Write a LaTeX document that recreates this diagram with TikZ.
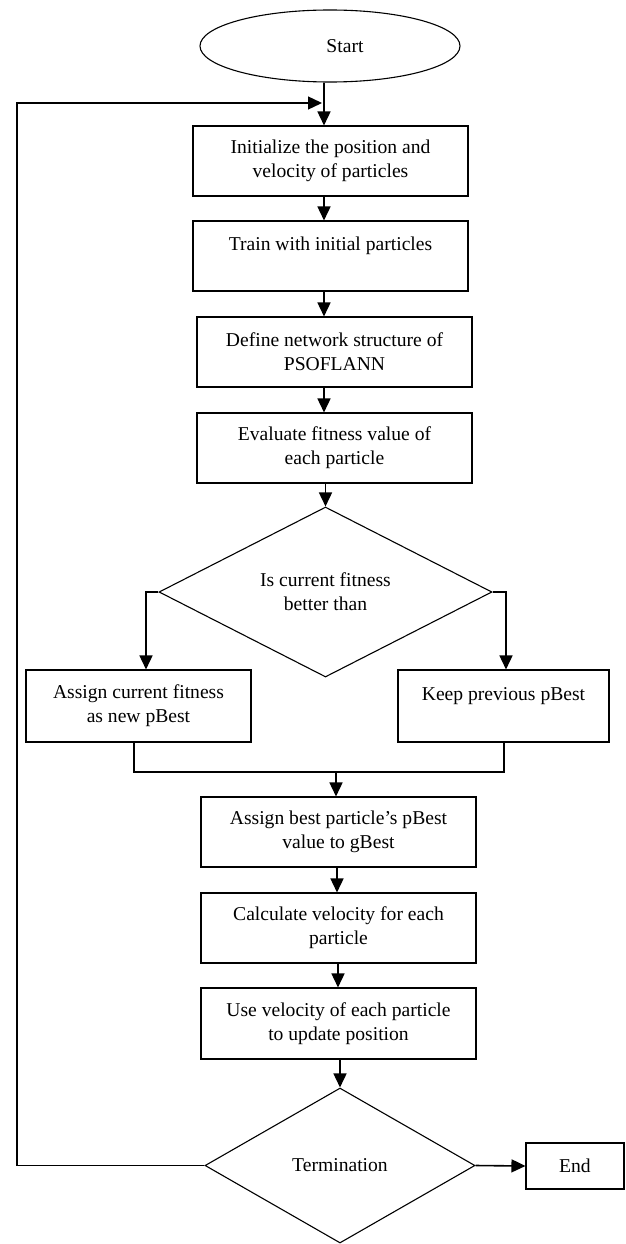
\documentclass[tikz,border=0pt]{standalone}
\usepackage{fontspec}
\setmainfont{Liberation Serif}
\usetikzlibrary{shapes.geometric,arrows.meta}
\begin{document}
\begin{tikzpicture}[x=1pt,y=-1pt,
  every node/.style={font=\fontsize{19.6}{24}\selectfont},
  stepbox/.style={draw,line width=1.1pt,inner sep=0pt,align=center},
  decbox/.style={draw,diamond,line width=1.1pt,inner sep=0pt,align=center},
  conn/.style={line width=1.3pt},
  tipstyle/.style={-{Triangle[length=14pt,width=13pt]}},
  arr/.style={line width=1.6pt,tipstyle}]
\useasboundingbox (0,0) rectangle (625,1244);
\fill[white] (0,0) rectangle (625,1244);

\node[draw,ellipse,line width=1.1pt,inner sep=0pt,minimum width=260pt,minimum height=72pt] (start) at (330,46) {\hspace*{30pt}Start};

\node[stepbox,minimum width=275pt,minimum height=70pt] (init) at (330.5,161) {Initialize the position and\\velocity of particles};
\node[stepbox,minimum width=275pt,minimum height=70pt] (train) at (330.5,256) {Train with initial particles\\\mbox{}};
\node[stepbox,minimum width=275pt,minimum height=70pt] (define) at (334.5,352) {Define network structure of\\PSOFLANN};
\node[stepbox,minimum width=275pt,minimum height=70pt] (eval) at (334.5,448) {Evaluate fitness value of\\each particle};
\node[decbox,minimum width=333pt,minimum height=170pt] (dec) at (325.5,592) {Is current fitness\\better than};
\node[stepbox,minimum width=225pt,minimum height=72pt] (assign) at (138.5,706) {Assign current fitness\\as new pBest};
\node[stepbox,minimum width=211pt,minimum height=72pt] (keep) at (503.5,706) {Keep previous pBest\\\mbox{}};
\node[stepbox,minimum width=275pt,minimum height=70pt] (gbest) at (338.5,832) {Assign best particle’s pBest\\value to gBest};
\node[stepbox,minimum width=275pt,minimum height=70pt] (calc) at (338.5,928) {Calculate velocity for each\\particle};
\node[stepbox,minimum width=275pt,minimum height=71pt] (use) at (338.5,1023.5) {Use velocity of each particle\\to update position};
\node[decbox,minimum width=270pt,minimum height=155pt] (term) at (340,1165.5) {Termination};
\node[stepbox,minimum width=98pt,minimum height=46pt] (end) at (575,1166) {End};

\coordinate (cA) at (324,0);
\coordinate (cL) at (146,0);
\coordinate (cR) at (506,0);
\coordinate (cL2) at (134,0);
\coordinate (cR2) at (504,0);
\coordinate (mj) at (336,772);
\coordinate (cB) at (337,0);
\coordinate (cC) at (338,0);
\coordinate (lp) at (17,103);
\coordinate (lt) at (322,103);

\draw[arr] (start.south -| cA) -- (init.north -| cA);
\draw[arr] (init.south -| cA) -- (train.north -| cA);
\draw[arr] (train.south -| cA) -- (define.north -| cA);
\draw[arr] (define.south -| cA) -- (eval.north -| cA);
\draw[arr] (eval.south -| dec.north) -- (dec.north);
\draw[arr] (dec.west) -| (assign.north -| cL);
\draw[arr] (dec.east) -| (keep.north -| cR);
\draw[conn] (assign.south -| cL2) |- (mj) -| (keep.south -| cR2);
\draw[arr] (mj) -- (gbest.north -| mj);
\draw[arr] (gbest.south -| cB) -- (calc.north -| cB);
\draw[arr] (calc.south -| cC) -- (use.north -| cC);
\draw[arr] (use.south -| term.north) -- (term.north);
\draw[arr] (term.east) -- (end.west);
\draw[conn,tipstyle] (term.west) -| (lp) -- (lt);
\end{tikzpicture}
\end{document}
